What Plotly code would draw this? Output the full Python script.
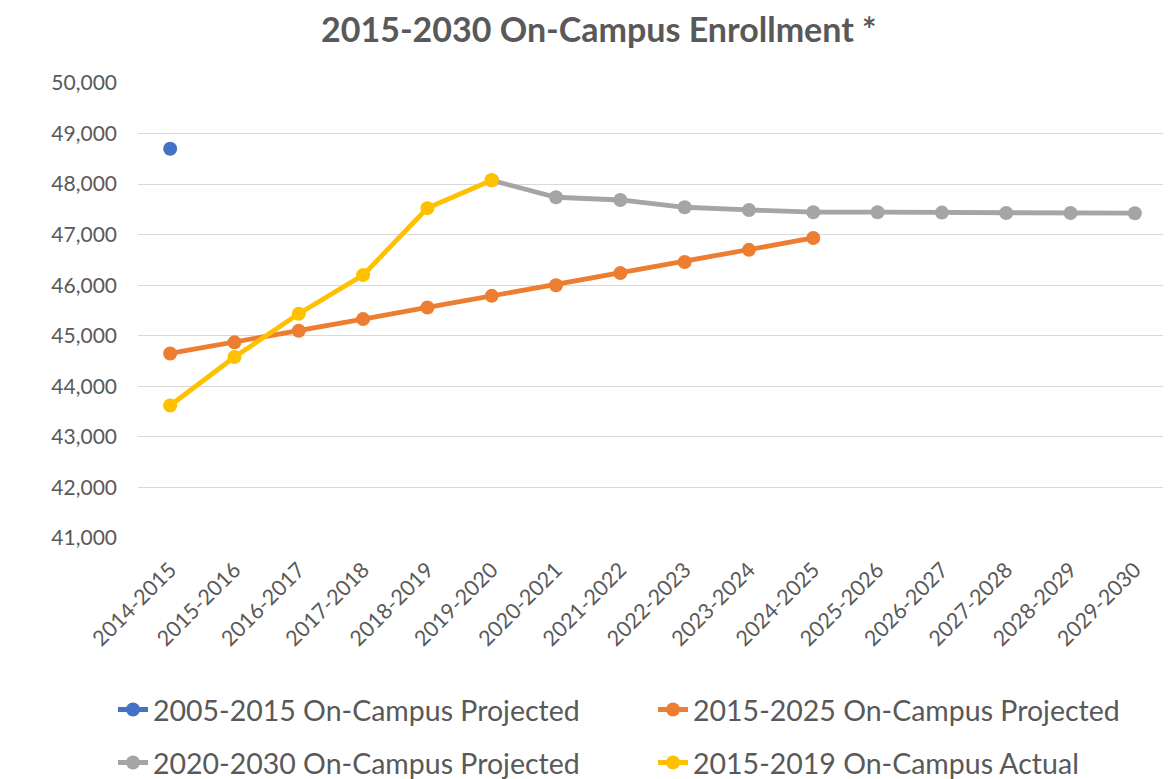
import plotly.graph_objects as go

categories = ["2014-2015", "2015-2016", "2016-2017", "2017-2018", "2018-2019",
              "2019-2020", "2020-2021", "2021-2022", "2022-2023", "2023-2024",
              "2024-2025", "2025-2026", "2026-2027", "2027-2028", "2028-2029",
              "2029-2030"]

proj_2005_2015 = [48700] + [None] * 15
proj_2015_2025 = [44650, 44870, 45100, 45330, 45560, 45790, 46000, 46240, 46460,
                  46700, 46935] + [None] * 5
proj_2020_2030 = [None] * 5 + [48075, 47740, 47686, 47542, 47489, 47444, 47444,
                                47436, 47430, 47430, 47425]
actual_2015_2019 = [43620, 44580, 45435, 46200, 47525, 48075] + [None] * 10

series_names = ["2005-2015 On-Campus Projected", "2015-2025 On-Campus Projected",
                "2020-2030 On-Campus Projected", "2015-2019 On-Campus Actual"]
colors = ["#4472C4", "#ED7D31", "#A5A5A5", "#FFC000"]
y_ticks = [41000, 42000, 43000, 44000, 45000, 46000, 47000, 48000, 49000, 50000]

FONT = "Lato, sans-serif"
TXT = "#595959"

fig = go.Figure()
all_series = [proj_2005_2015, proj_2015_2025, proj_2020_2030, actual_2015_2019]
legend_ids = ["legend", "legend2", "legend3", "legend4"]
for name, vals, col, lg in zip(series_names, all_series, colors, legend_ids):
    fig.add_trace(go.Scatter(
        x=categories, y=vals, name=name, mode="lines+markers",
        line=dict(color=col, width=4.8), marker=dict(color=col, size=14),
        connectgaps=False, legend=lg))

# legend placements (paper coords)
leg_pos = {"legend": (-0.0243, -0.378), "legend2": (0.5005, -0.378),
           "legend3": (-0.0243, -0.4945), "legend4": (0.5005, -0.4945)}

layout_legends = {}
for lid, (lx, ly) in leg_pos.items():
    layout_legends[lid] = dict(
        x=lx, y=ly, xanchor="left", yanchor="middle", orientation="h",
        bgcolor="rgba(0,0,0,0)", borderwidth=0,
        font=dict(size=28.5, color=TXT, family=FONT))

# the page body adds an 8 px offset; the figure is sized to fit the window
fig.update_layout(
    width=1163, height=771,
    paper_bgcolor="white", plot_bgcolor="white",
    margin=dict(l=130, r=4, t=75, b=241, autoexpand=False),
    font=dict(family=FONT, color=TXT, size=20),
    title=dict(text="<b>2015-2030 On-Campus Enrollment *</b>", x=0.508, xanchor="center",
               y=0.972, yanchor="middle",
               font=dict(family=FONT, size=34, color=TXT)),
    xaxis=dict(type="category", categoryorder="array", categoryarray=categories,
               range=[-0.5, 15.5], tickangle=-45, showgrid=False, showline=False,
               ticks="", automargin=False, ticklabelstandoff=14,
               tickfont=dict(size=21.5, color=TXT, family=FONT)),
    yaxis=dict(range=[41000, 50000], tickvals=y_ticks, tickformat=",d",
               showgrid=True, gridcolor="#D9D9D9", gridwidth=1.3,
               zeroline=False, showline=False, ticks="", ticklabelstandoff=20,
               automargin=False,
               tickfont=dict(size=21, color=TXT, family=FONT)),
    showlegend=True,
    **layout_legends,
)

fig.write_html("out.html")
